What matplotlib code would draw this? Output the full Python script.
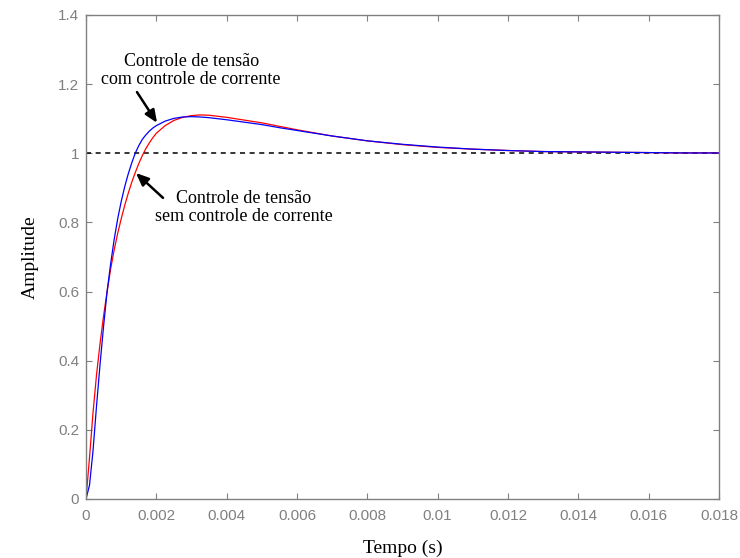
import numpy as np
import matplotlib
matplotlib.use('Agg')
import matplotlib.pyplot as plt
from matplotlib.ticker import FormatStrFormatter

# time in ms
t_ms = [0, 0.1, 0.2, 0.3, 0.4, 0.5, 0.6, 0.7, 0.8, 0.9, 1.0, 1.1, 1.2, 1.3,
        1.4, 1.5, 1.6, 1.7, 1.8, 1.9, 2.0, 2.25, 2.5, 2.75, 3.0, 3.25, 3.5,
        4.0, 4.5, 5.0, 5.5, 6.0, 7.0, 8.0, 9.0, 10.0, 11.0, 12.0, 13.0,
        14.0, 15.0, 16.0, 17.0, 18.0]

# com controle de corrente (blue)
y_com = [0, 0.04, 0.14, 0.27, 0.39, 0.50, 0.60, 0.68, 0.75, 0.81, 0.86,
         0.903, 0.94, 0.972, 1.00, 1.022, 1.04, 1.053, 1.064, 1.073, 1.080,
         1.093, 1.101, 1.105, 1.106, 1.105, 1.103, 1.097, 1.090, 1.083,
         1.074, 1.066, 1.050, 1.036, 1.026, 1.018, 1.012, 1.008, 1.005,
         1.004, 1.003, 1.002, 1.001, 1.001]

# sem controle de corrente (red)
y_sem = [0, 0.12, 0.25, 0.36, 0.45, 0.53, 0.60, 0.665, 0.72, 0.768, 0.81,
         0.849, 0.884, 0.916, 0.944, 0.97, 0.993, 1.013, 1.03, 1.045, 1.058,
         1.080, 1.095, 1.104, 1.109, 1.111, 1.110, 1.104, 1.096, 1.088,
         1.078, 1.068, 1.050, 1.036, 1.025, 1.017, 1.012, 1.008, 1.005,
         1.004, 1.003, 1.002, 1.001, 1.001]

x_ticks = [0, 0.002, 0.004, 0.006, 0.008, 0.01, 0.012, 0.014, 0.016, 0.018]
y_ticks = [0, 0.2, 0.4, 0.6, 0.8, 1.0, 1.2, 1.4]

t = np.array(t_ms) / 1000.0

fig = plt.figure(figsize=(7.4, 5.58), dpi=100)
ax = fig.add_axes([86/740, 59/558, 633/740, 484/558])

ax.axhline(1.0, color='k', lw=1.1, linestyle=(0, (3.3, 3.0)))
ax.plot(t, y_sem, color='#ff0000', lw=0.9)
ax.plot(t, y_com, color='#0000ff', lw=0.9)

ax.set_xlim(0, 0.018)
ax.set_ylim(0, 1.4)
ax.set_xticks(x_ticks)
ax.set_yticks(y_ticks)
ax.xaxis.set_major_formatter(FormatStrFormatter('%g'))
ax.yaxis.set_major_formatter(FormatStrFormatter('%g'))

gray = '#808080'
for s in ax.spines.values():
    s.set_color(gray)
    s.set_linewidth(1.0)
ax.tick_params(direction='in', length=4, width=0.8, color=gray,
               labelcolor=gray, labelsize=11, top=True, right=True)
ax.tick_params(axis='x', pad=7)
ax.tick_params(axis='y', pad=5)
for lab in ax.get_xticklabels() + ax.get_yticklabels():
    lab.set_family('Liberation Sans')

serif = 'Liberation Serif'
ax.set_xlabel('Tempo (s)', fontsize=14, family=serif, labelpad=12)
ax.set_ylabel('Amplitude', fontsize=14, family=serif, labelpad=14)

arrow = dict(arrowstyle='-|>,head_length=0.75,head_width=0.32',
             color='k', lw=1.8, shrinkA=0, shrinkB=0)
ax.text(0.00299, 1.2395, 'Controle de tensão\ncom controle de corrente',
        ha='center', va='center', fontsize=13, family=serif, linespacing=1.05)
ax.annotate('', xy=(0.00202, 1.088), xytext=(0.00145, 1.177),
            arrowprops=arrow)
ax.text(0.00449, 0.843, 'Controle de tensão\nsem controle de corrente',
        ha='center', va='center', fontsize=13, family=serif, linespacing=1.05)
ax.annotate('', xy=(0.00142, 0.943), xytext=(0.00219, 0.871),
            arrowprops=arrow)

fig.savefig('out.png', dpi=100)
